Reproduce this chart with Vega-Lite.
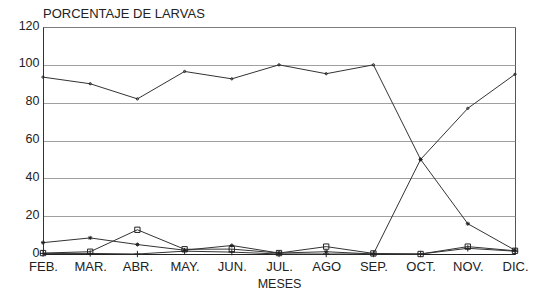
{
  "$schema": "https://vega.github.io/schema/vega-lite/v6.json",
  "width": 472,
  "height": 227,
  "autosize": "none",
  "padding": {"left": 43, "top": 27, "right": 25, "bottom": 44},
  "background": "white",
  "config": {
    "font": "Liberation Sans",
    "view": {"stroke": "#555", "strokeWidth": 1},
    "axis": {"labelColor": "#222", "titleColor": "#222", "labelFont": "Liberation Sans", "titleFont": "Liberation Sans"}
  },
  "title": {
    "text": "PORCENTAJE DE LARVAS",
    "anchor": "start",
    "frame": "group",
    "fontSize": 13,
    "fontWeight": "normal",
    "color": "#222",
    "offset": -2
  },
  "data": {
    "values": [
      {"mes": "FEB.", "serie": "A", "valor": 93.5},
      {"mes": "MAR.", "serie": "A", "valor": 90},
      {"mes": "ABR.", "serie": "A", "valor": 82},
      {"mes": "MAY.", "serie": "A", "valor": 96.5},
      {"mes": "JUN.", "serie": "A", "valor": 92.6},
      {"mes": "JUL.", "serie": "A", "valor": 100},
      {"mes": "AGO", "serie": "A", "valor": 95.3},
      {"mes": "SEP.", "serie": "A", "valor": 100},
      {"mes": "OCT.", "serie": "A", "valor": 50},
      {"mes": "NOV.", "serie": "A", "valor": 77},
      {"mes": "DIC.", "serie": "A", "valor": 95},
      {"mes": "FEB.", "serie": "B", "valor": 6},
      {"mes": "MAR.", "serie": "B", "valor": 8.5},
      {"mes": "ABR.", "serie": "B", "valor": 5},
      {"mes": "MAY.", "serie": "B", "valor": 2},
      {"mes": "JUN.", "serie": "B", "valor": 4.5},
      {"mes": "JUL.", "serie": "B", "valor": 0.5},
      {"mes": "AGO", "serie": "B", "valor": 1.2},
      {"mes": "SEP.", "serie": "B", "valor": 0},
      {"mes": "OCT.", "serie": "B", "valor": 50},
      {"mes": "NOV.", "serie": "B", "valor": 16},
      {"mes": "DIC.", "serie": "B", "valor": 2},
      {"mes": "FEB.", "serie": "C", "valor": 0.5},
      {"mes": "MAR.", "serie": "C", "valor": 1.2},
      {"mes": "ABR.", "serie": "C", "valor": 12.8},
      {"mes": "MAY.", "serie": "C", "valor": 2.5},
      {"mes": "JUN.", "serie": "C", "valor": 2.6},
      {"mes": "JUL.", "serie": "C", "valor": 0.5},
      {"mes": "AGO", "serie": "C", "valor": 3.9},
      {"mes": "SEP.", "serie": "C", "valor": 0.3},
      {"mes": "OCT.", "serie": "C", "valor": 0},
      {"mes": "NOV.", "serie": "C", "valor": 3.9},
      {"mes": "DIC.", "serie": "C", "valor": 1.7},
      {"mes": "FEB.", "serie": "D", "valor": 0.3},
      {"mes": "MAR.", "serie": "D", "valor": 0.3},
      {"mes": "ABR.", "serie": "D", "valor": 0},
      {"mes": "MAY.", "serie": "D", "valor": 1.5},
      {"mes": "JUN.", "serie": "D", "valor": 1},
      {"mes": "JUL.", "serie": "D", "valor": 0},
      {"mes": "AGO", "serie": "D", "valor": 0},
      {"mes": "SEP.", "serie": "D", "valor": 0},
      {"mes": "OCT.", "serie": "D", "valor": 0},
      {"mes": "NOV.", "serie": "D", "valor": 3},
      {"mes": "DIC.", "serie": "D", "valor": 1.5}
    ]
  },
  "encoding": {
    "x": {
      "field": "mes",
      "type": "ordinal",
      "sort": null,
      "scale": {"type": "point", "padding": 0},
      "axis": {
        "title": "MESES",
        "labelAngle": 0,
        "labelFontSize": 13,
        "labelPadding": 6,
        "titleFontSize": 12.5,
        "titleFontWeight": "normal",
        "titlePadding": 4,
        "ticks": false,
        "grid": false,
        "domainColor": "#222",
        "domainWidth": 1.2
      }
    },
    "y": {
      "field": "valor",
      "type": "quantitative",
      "scale": {"domain": [0, 120], "nice": false},
      "axis": {
        "title": null,
        "values": [0, 20, 40, 60, 80, 100, 120],
        "labelFontSize": 12.5,
        "labelOffset": -2,
        "labelPadding": 4,
        "ticks": false,
        "gridColor": "#888",
        "gridWidth": 0.8,
        "domainColor": "#333"
      }
    },
    "detail": {"field": "serie"}
  },
  "layer": [
    {
      "mark": {"type": "line", "color": "#333", "strokeWidth": 1}
    },
    {
      "mark": {"type": "point", "filled": false, "stroke": "#222", "strokeWidth": 1, "opacity": 1},
      "encoding": {
        "shape": {
          "field": "serie",
          "scale": {
            "domain": ["A", "B", "C", "D"],
            "range": [
              "circle",
              "M-1,0L1,0M0,-1L0,1M-0.7,-0.7L0.7,0.7M-0.7,0.7L0.7,-0.7",
              "square",
              "M-1,0L1,0M0,-1L0,1"
            ]
          },
          "legend": null
        },
        "size": {
          "field": "serie",
          "scale": {"domain": ["A", "B", "C", "D"], "range": [5, 40, 40, 20]},
          "legend": null
        }
      }
    }
  ]
}
